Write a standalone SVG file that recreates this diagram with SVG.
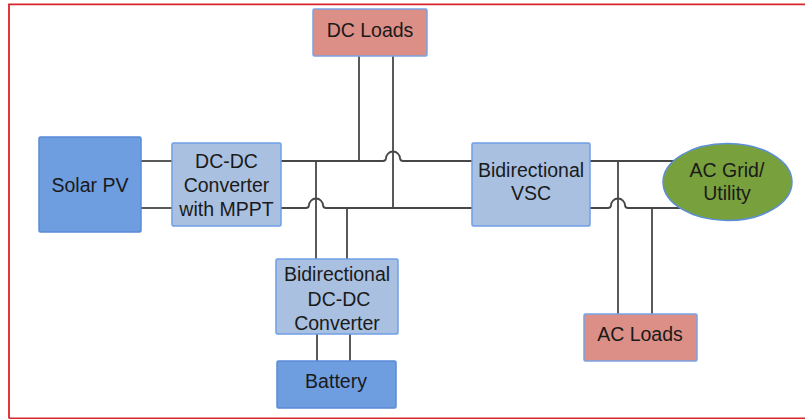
<svg xmlns="http://www.w3.org/2000/svg" width="805" height="419" viewBox="0 0 805 419">
<style>
  .lbl { font-family: "Liberation Sans", Arial, sans-serif; font-size: 19.5px; fill: #1a1a1a; text-anchor: middle; }
  .src { fill: #6e9de0; stroke: #5a8ad8; stroke-width: 1.5; }
  .conv { fill: #a9c0e0; stroke: #6f9fe6; stroke-width: 1.5; }
  .load { fill: #dc8f86; stroke: #7ba2e2; stroke-width: 1.5; }
  .grid { fill: #78a03c; stroke: #5b8fd8; stroke-width: 1.5; }
  .wire { fill: none; stroke: #474747; stroke-width: 1.8; }
</style>
<rect x="0" y="0" width="805" height="419" fill="#ffffff"/>
<path d="M9,418.5 V4.3 H805 M9,418.3 H805" fill="none" stroke="#d9262c" stroke-width="1.8"/>
<g id="connectors" class="wire">
  <path d="M141,161 H172"/>
  <path d="M141,208 H172"/>
  <path d="M281,161 H383 Q385.5,161 386,158.5 A7,7 0 0 1 400,158.5 Q400.5,161 403,161 H472"/>
  <path d="M281,208 H306 Q308.5,208 309,205.5 A7,7 0 0 1 323,205.5 Q323.5,208 326,208 H472"/>
  <path d="M590,161 H690"/>
  <path d="M590,208 H608 Q610.5,208 611,205.5 A7,7 0 0 1 625,205.5 Q625.5,208 628,208 H695"/>
  <path d="M359,56 V161"/>
  <path d="M393,56 V208"/>
  <path d="M316,161 V259"/>
  <path d="M347,208 V259"/>
  <path d="M317,334 V361"/>
  <path d="M350,334 V361"/>
  <path d="M618,161 V314"/>
  <path d="M652,208 V314"/>
</g>
<g id="solar-pv">
  <rect class="src" x="39" y="137" width="102" height="95" rx="1.5"/>
  <text class="lbl" x="90" y="192">Solar PV</text>
</g>
<g id="dcdc-mppt">
  <rect class="conv" x="172" y="143" width="109" height="83" rx="1.5"/>
  <text class="lbl" x="226.5" y="168">DC-DC</text>
  <text class="lbl" x="226.5" y="192">Converter</text>
  <text class="lbl" x="226.5" y="216">with MPPT</text>
</g>
<g id="dc-loads">
  <rect class="load" x="313" y="9" width="114" height="47" rx="1.5"/>
  <text class="lbl" x="370" y="37">DC Loads</text>
</g>
<g id="bidir-vsc">
  <rect class="conv" x="472" y="143" width="118" height="83" rx="1.5"/>
  <text class="lbl" x="531" y="177">Bidirectional</text>
  <text class="lbl" x="531" y="200">VSC</text>
</g>
<g id="ac-grid">
  <ellipse class="grid" cx="727.5" cy="182" rx="64.5" ry="38.5"/>
  <text class="lbl" x="727" y="177">AC Grid/</text>
  <text class="lbl" x="727" y="200">Utility</text>
</g>
<g id="bidir-dcdc">
  <rect class="conv" x="276" y="259" width="122" height="75" rx="1.5"/>
  <text class="lbl" x="337" y="281">Bidirectional</text>
  <text class="lbl" x="339" y="306">DC-DC</text>
  <text class="lbl" x="337" y="330">Converter</text>
</g>
<g id="battery">
  <rect class="src" x="277" y="361" width="119" height="47" rx="1.5"/>
  <text class="lbl" x="336" y="388">Battery</text>
</g>
<g id="ac-loads">
  <rect class="load" x="584" y="314" width="113" height="47" rx="1.5"/>
  <text class="lbl" x="640" y="341">AC Loads</text>
</g>
</svg>
